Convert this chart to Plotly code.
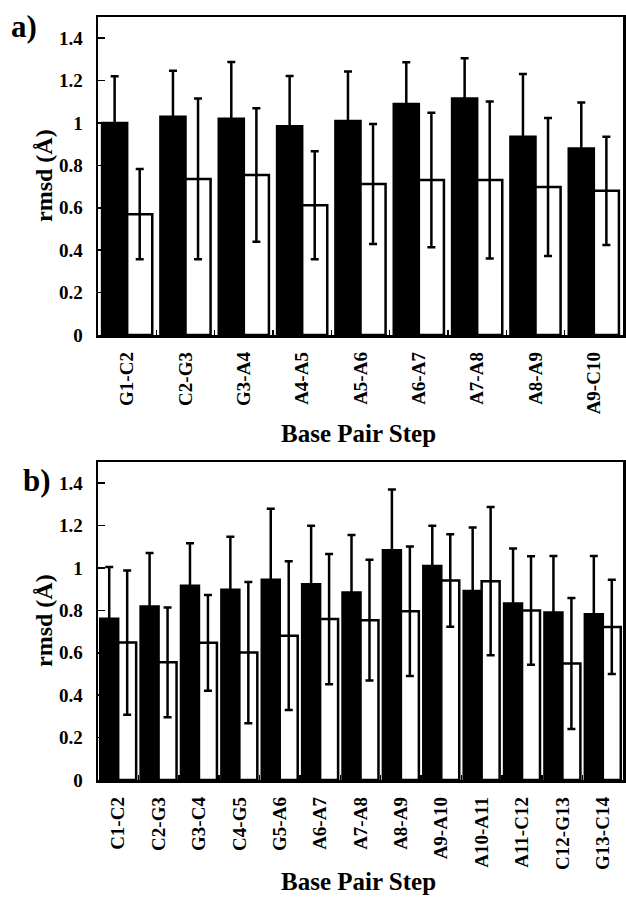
import plotly.graph_objects as go

# ---------------- data ----------------
steps_a = ["G1-C2", "C2-G3", "G3-A4", "A4-A5", "A5-A6", "A6-A7", "A7-A8", "A8-A9", "A9-C10"]
black_a = [1.00, 1.03, 1.02, 0.985, 1.01, 1.09, 1.115, 0.935, 0.88]
black_a_err = [0.22, 0.217, 0.268, 0.237, 0.233, 0.197, 0.19, 0.296, 0.217]
white_a = [0.57, 0.736, 0.755, 0.612, 0.712, 0.731, 0.731, 0.698, 0.68]
white_a_err = [0.213, 0.379, 0.315, 0.255, 0.283, 0.317, 0.37, 0.325, 0.255]

steps_b = ["C1-C2", "C2-G3", "G3-C4", "C4-G5", "G5-A6", "A6-A7", "A7-A8", "A8-A9",
           "A9-A10", "A10-A11", "A11-C12", "C12-G13", "G13-C14"]
black_b = [0.761, 0.818, 0.916, 0.897, 0.945, 0.923, 0.884, 1.084, 1.01, 0.892, 0.832, 0.79, 0.782]
black_b_err = [0.244, 0.253, 0.201, 0.25, 0.335, 0.276, 0.272, 0.286, 0.189, 0.299, 0.26, 0.267, 0.275]
white_b = [0.648, 0.555, 0.647, 0.601, 0.681, 0.759, 0.754, 0.796, 0.941, 0.938, 0.80, 0.55, 0.722]
white_b_err = [0.34, 0.259, 0.226, 0.333, 0.351, 0.307, 0.285, 0.305, 0.218, 0.35, 0.256, 0.309, 0.222]

y_ticks = [0, 0.2, 0.4, 0.6, 0.8, 1.0, 1.2, 1.4]
y_tick_text = ["0", "0.2", "0.4", "0.6", "0.8", "1", "1.2", "1.4"]

# ---------------- style ----------------
W, H = 626, 897
FONT = "Liberation Serif, Times New Roman, serif"
LW = 2.5

def px_x(p):
    return p / W

def px_y(p):
    return 1 - p / H

fig = go.Figure()

def add_panel(steps, blk, blk_err, wht, wht_err, xa, ya, bw):
    fig.add_trace(go.Bar(
        x=steps, y=blk, xaxis=xa, yaxis=ya,
        marker=dict(color="black", line=dict(color="black", width=LW)),
        width=bw, offset=-bw,
        error_y=dict(type="data", array=blk_err, visible=True, color="black",
                     thickness=LW, width=4),
        showlegend=False, hoverinfo="skip"))
    fig.add_trace(go.Bar(
        x=steps, y=wht, xaxis=xa, yaxis=ya,
        marker=dict(color="white", line=dict(color="black", width=LW)),
        width=bw, offset=0,
        error_y=dict(type="data", array=wht_err, visible=True, color="black",
                     thickness=LW, width=4),
        showlegend=False, hoverinfo="skip"))

add_panel(steps_a, black_a, black_a_err, white_a, white_a_err, "x", "y", 0.43)
add_panel(steps_b, black_b, black_b_err, white_b, white_b_err, "x2", "y2", 0.445)

xdom = [px_x(98), px_x(623)]
common_x = dict(
    type="category", showline=True, linecolor="black", linewidth=LW, mirror=True,
    ticks="inside", ticklen=5, tickwidth=1.5, tickcolor="black", tickson="boundaries",
    tickangle=-90, tickfont=dict(family=FONT, size=19, color="black", weight="bold"),
    showgrid=False, zeroline=False, automargin=False, fixedrange=True,
)
common_y = dict(
    range=[0, 1.5], tickvals=y_ticks, ticktext=y_tick_text,
    showline=True, linecolor="black", linewidth=LW, mirror=True,
    ticks="inside", ticklen=7, tickwidth=1.5, tickcolor="black",
    tickfont=dict(family=FONT, size=19, color="black", weight="bold"),
    ticklabelstandoff=9,
    showgrid=False, zeroline=False, automargin=False, fixedrange=True,
)

fig.update_layout(
    width=W, height=H,
    margin=dict(l=0, r=0, t=0, b=0),
    paper_bgcolor="white", plot_bgcolor="white",
    barmode="group",
    xaxis=dict(common_x, domain=xdom, anchor="y", range=[-0.5, len(steps_a) - 0.5],
               ticklabelstandoff=7),
    yaxis=dict(common_y, domain=[px_y(335), px_y(17)], anchor="x"),
    xaxis2=dict(common_x, domain=xdom, anchor="y2", range=[-0.5, len(steps_b) - 0.5],
                ticklabelstandoff=7),
    yaxis2=dict(common_y, domain=[px_y(780), px_y(462)], anchor="x2"),
)

title_font = dict(family=FONT, size=24, color="black", weight="bold")
xtitle_font = dict(family=FONT, size=25, color="black", weight="bold")
ann = [
    dict(text="rmsd (Å)", x=px_x(44), y=px_y(176), textangle=-90, font=title_font),
    dict(text="rmsd (Å)", x=px_x(44), y=px_y(621), textangle=-90, font=title_font),
    dict(text="Base Pair Step", x=px_x(358), y=px_y(433), font=xtitle_font),
    dict(text="Base Pair Step", x=px_x(358), y=px_y(881), font=xtitle_font),
    dict(text="a)", x=px_x(24), y=px_y(27), font=dict(family=FONT, size=31, color="black", weight="bold")),
    dict(text="b)", x=px_x(37), y=px_y(480), font=dict(family=FONT, size=31, color="black", weight="bold")),
]
for a in ann:
    a.update(xref="paper", yref="paper", showarrow=False, xanchor="center", yanchor="middle")
fig.update_layout(annotations=ann)

fig.write_html(
    "out.html",
    config={"displayModeBar": False, "staticPlot": True},
    post_script="document.body.style.margin='0';document.body.style.overflow='hidden';",
)
